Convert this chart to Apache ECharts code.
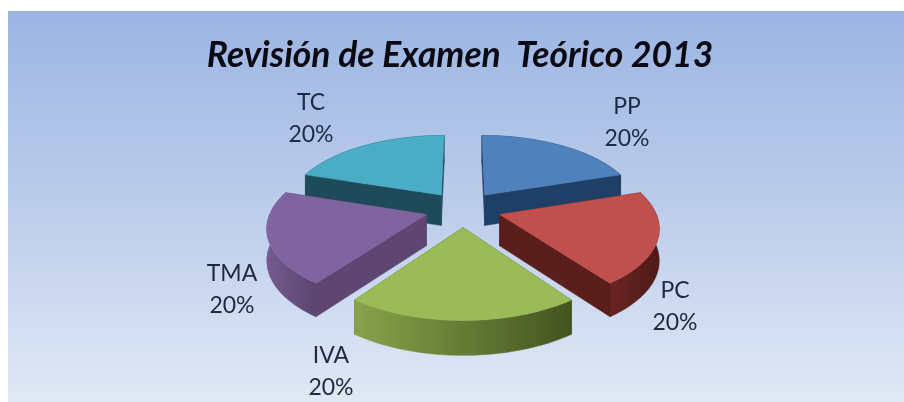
<!DOCTYPE html>
<html><head><meta charset="utf-8">
<style>html,body{margin:0;padding:0;background:#fff}#c{width:904px;height:402px}</style>
<script src="https://cdn.jsdelivr.net/npm/echarts@6/dist/echarts.min.js"></script>
</head><body><div id="c"></div>
<script>
const categories = ['PP', 'PC', 'IVA', 'TMA', 'TC'];
const values = [20, 20, 20, 20, 20];
const topColors = ['#4f81bd', '#c0504d', '#9bbb59', '#8064a2', '#4bacc6'];
const sideColors = ['#1f3f66', '#5a1f1c', '#4f6327', '#5f4672', '#1f4a5a'];
const outerLeft = ['#1f3f66', '#6a2522', '#88a34b', '#755a90', '#1f4a5a'];
const outerRight = ['#1f3f66', '#4f1a18', '#43541f', '#5c4570', '#1f4a5a'];
const labelCentres = [[627, 123], [675, 307], [331, 372], [232, 290], [311, 119]];

const CX = 463, CY = 209, R = 155, EXPLODE = 38, K = 0.00098, B = 0.468, H = 31;
const total = values.reduce((a, b) => a + b, 0);

function project(X, Y, down) {
  const s = 1 / (1 - K * Y);
  const h = down ? H * (1 + (s - 1) * 0.55) : 0;
  return [CX + X * s, CY + B * Y * s + h];
}
function wedgeElements(idx) {
  let before = 0;
  for (let i = 0; i < idx; i++) before += values[i];
  const a0 = before / total * Math.PI * 2;
  const a1 = (before + values[idx]) / total * Math.PI * 2;
  const mid = (a0 + a1) / 2;
  const ox = EXPLODE * Math.sin(mid), oy = -EXPLODE * Math.cos(mid);
  const apex = [ox, oy];
  const arc = [];
  const N = 40;
  for (let i = 0; i <= N; i++) {
    const a = a0 + (a1 - a0) * i / N;
    arc.push([ox + R * Math.sin(a), oy - R * Math.cos(a)]);
  }
  const base = Math.round((oy + 60) * 10);
  const quad = (pts, fill) => ({
    type: 'polygon',
    shape: { points: pts },
    style: { fill: fill, stroke: fill, lineWidth: 0.5 }
  });
  const wall = (a, b, fill) => quad(
    [project(a[0], a[1]), project(b[0], b[1]), project(b[0], b[1], true), project(a[0], a[1], true)], fill);
  const topPts = [project(apex[0], apex[1])].concat(arc.map(p => project(p[0], p[1])));
  const lowerArc = arc.map(p => project(p[0], p[1], true)).reverse();
  const outerPts = arc.map(p => project(p[0], p[1])).concat(lowerArc);
  const outerFill = new echarts.graphic.LinearGradient(0, 0, 1, 0, [
    { offset: 0, color: outerLeft[idx] }, { offset: 1, color: outerRight[idx] }
  ]);
  const faces = [
    { y: (apex[1] + arc[0][1]) / 2, el: wall(apex, arc[0], sideColors[idx]) },
    { y: (apex[1] + arc[N][1]) / 2, el: wall(apex, arc[N], sideColors[idx]) },
    { y: arc[N >> 1][1], el: quad(outerPts, outerFill) }
  ].sort((p, q) => p.y - q.y);
  faces.forEach((f, i) => { f.el.z2 = base + i; });
  const els = faces.map(f => f.el);
  els.push({
    type: 'polygon', z2: base + 5, shape: { points: topPts },
    style: { fill: topColors[idx], stroke: topColors[idx], lineWidth: 0.5 }
  });
  const pct = Math.round(values[idx] / total * 100) + '%';
  els.push({
    type: 'text', z2: 2000, x: labelCentres[idx][0], y: labelCentres[idx][1],
    style: {
      text: categories[idx] + '\n' + pct, fill: '#1e2a44', align: 'center', verticalAlign: 'middle',
      font: '23px Lato', lineHeight: 32
    }
  });
  return els;
}

const chart = echarts.init(document.getElementById('c'), null, { renderer: 'canvas' });
chart.setOption({
  animation: false,
  backgroundColor: '#ffffff',
  title: {
    text: 'Revisión de Examen  Teórico 2013', left: 455, top: 33, textAlign: 'center',
    textStyle: { fontFamily: 'Lato', fontSize: 35.4, fontStyle: 'italic', fontWeight: 'bold', color: '#0a0a14' }
  },
  graphic: [{
    type: 'rect', silent: true, z: -1,
    shape: { x: 8, y: 11, width: 896, height: 391 },
    style: {
      fill: new echarts.graphic.LinearGradient(0, 0, 0, 1, [
        { offset: 0, color: '#9bb5e3' }, { offset: 0.5, color: '#bccdeb' }, { offset: 1, color: '#e0e8f5' }
      ])
    }
  }],
  series: [{
    type: 'custom',
    coordinateSystem: 'none',
    data: values,
    renderItem: function (params) {
      return { type: 'group', children: wedgeElements(params.dataIndex) };
    }
  }]
});
</script></body></html>
